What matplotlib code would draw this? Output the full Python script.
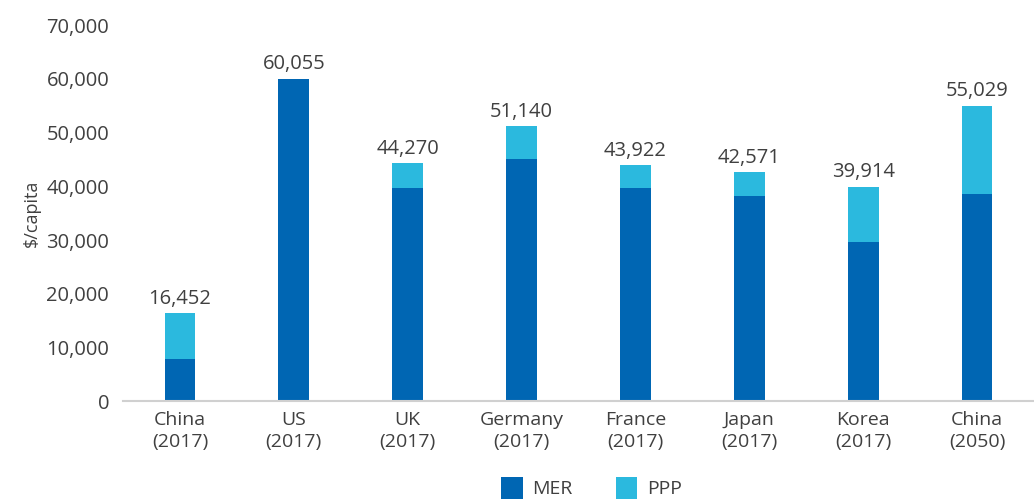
import matplotlib
matplotlib.use('Agg')

import matplotlib.pyplot as plt
import numpy as np

# Categories and values
categories = ['China\n(2017)', 'US\n(2017)', 'UK\n(2017)', 'Germany\n(2017)',
              'France\n(2017)', 'Japan\n(2017)', 'Korea\n(2017)', 'China\n(2050)']
totals = [16452, 60055, 44270, 51140, 43922, 42571, 39914, 55029]
mer = [7900, 60055, 39700, 45000, 39700, 38200, 29650, 38550]
ppp = [t - m for t, m in zip(totals, mer)]
yticks = [0, 10000, 20000, 30000, 40000, 50000, 60000, 70000]

MER_COLOR = '#0066B3'
PPP_COLOR = '#2BB9DE'
TEXT_COLOR = '#404040'

plt.rcParams['font.family'] = ['Open Sans', 'DejaVu Sans']
plt.rcParams['font.size'] = 14

fig = plt.figure(figsize=(10.34, 5.01), dpi=100)
ax = fig.add_axes([0.119, 0.199, 0.881, 0.751])

x = np.arange(len(categories))
ax.bar(x, mer, width=0.27, color=MER_COLOR, label='MER')
ax.bar(x, ppp, width=0.27, bottom=mer, color=PPP_COLOR, label='PPP')

for xi, t in zip(x, totals):
    ax.text(xi, t + 800, f'{t:,}', ha='center', va='bottom',
            color=TEXT_COLOR, fontsize=14.5)

ax.set_xlim(-0.5, len(categories) - 0.5)
ax.set_ylim(0, 70000)
ax.set_yticks(yticks)
ax.set_yticklabels([f'{v:,}' for v in yticks])
ax.set_xticks(x)
ax.set_xticklabels(categories, linespacing=1.25)
ax.tick_params(axis='both', length=0, colors=TEXT_COLOR)
ax.tick_params(axis='y', labelsize=14.5, pad=10)
ax.tick_params(axis='x', labelsize=14, pad=7)

for side in ['top', 'right', 'left']:
    ax.spines[side].set_visible(False)
ax.spines['bottom'].set_color('#D0D0D0')
ax.spines['bottom'].set_linewidth(1.5)

ax.set_ylabel('$/capita', color=TEXT_COLOR, fontsize=13, labelpad=4)

fig.legend(loc='lower center', bbox_to_anchor=(0.572, -0.03), ncol=2,
           frameon=False, fontsize=14, handlelength=1.1, handleheight=1.3,
           columnspacing=2.2, handletextpad=0.5, labelcolor=TEXT_COLOR)

fig.savefig('out.png', dpi=100)
